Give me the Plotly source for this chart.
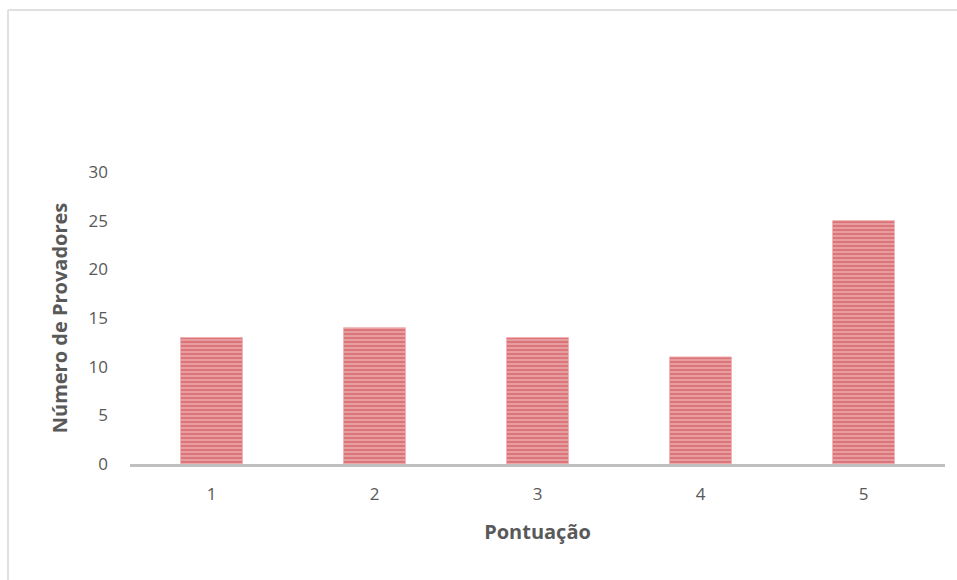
import plotly.graph_objects as go

categories = ["1", "2", "3", "4", "5"]
values = [13, 14, 13, 11, 25]
y_ticks = [0, 5, 10, 15, 20, 25, 30]

fig = go.Figure()
fig.add_trace(go.Bar(
    x=categories, y=values,
    marker=dict(
        color="#EBA5A8",
        line=dict(color="#F0B4B6", width=1),
        pattern=dict(shape="-", fgcolor="#C9434A", bgcolor="#EBA6A9", size=4, solidity=0.6),
    ),
    width=0.38,
))

W, H = 957, 580
l, r, t, b = 130, 12, 172, 116
pw, ph = W - l - r, H - t - b

def px_to_paper_x(px):
    return (px - l) / pw

def px_to_paper_y(py):
    return (H - b - py) / ph

FONT = "Open Sans, Lato, sans-serif"
fig.update_layout(
    width=W, height=H,
    margin=dict(l=l, r=r, t=t, b=b),
    paper_bgcolor="white", plot_bgcolor="white",
    showlegend=False,
    font=dict(family=FONT, color="#595959", size=17),
    xaxis=dict(
        type="category",
        showline=True, linecolor="#BFBFBF", linewidth=2.5,
        showgrid=False, ticks="", ticklabelstandoff=13,
        tickfont=dict(size=17, color="#595959"),
        title=dict(text="<b>Pontuação</b>", font=dict(size=20, color="#595959"), standoff=21),
    ),
    yaxis=dict(
        range=[0, 30], tickvals=y_ticks,
        showline=False, showgrid=False, zeroline=False, ticks="",
        ticklabelstandoff=21,
        tickfont=dict(size=17, color="#595959"),
        title=dict(text="<b>Número de Provadores</b>", font=dict(size=20, color="#595959"), standoff=15),
    ),
    shapes=[
        dict(type="line", xref="paper", yref="paper",
             x0=px_to_paper_x(8), x1=px_to_paper_x(960), y0=px_to_paper_y(10), y1=px_to_paper_y(10),
             line=dict(color="#E0E0E0", width=2)),
        dict(type="line", xref="paper", yref="paper",
             x0=px_to_paper_x(8), x1=px_to_paper_x(8), y0=px_to_paper_y(10), y1=px_to_paper_y(590),
             line=dict(color="#E0E0E0", width=2)),
    ],
)

fig.write_html("out.html")
